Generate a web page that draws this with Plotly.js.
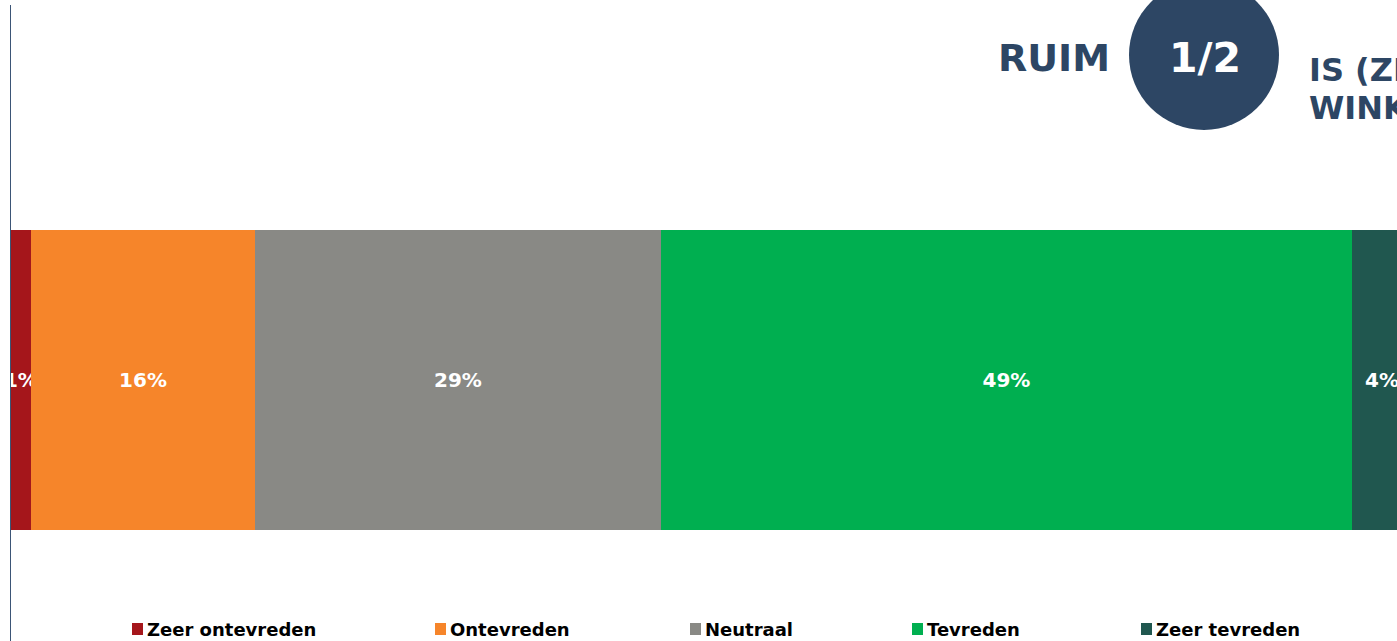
<!DOCTYPE html>
<html>
<head>
<meta charset="utf-8">
<script src="https://cdn.plot.ly/plotly-3.0.1.min.js"></script>
<style>
  html, body { margin: 0; padding: 0; overflow: hidden; background: #ffffff; }
  #chart { width: 1423px; height: 641px; }
</style>
</head>
<body>
<div id="chart"></div>
<script>
// ---- data ----
const categories = ['Zeer ontevreden', 'Ontevreden', 'Neutraal', 'Tevreden', 'Zeer tevreden'];
const values = [1.4, 15.9, 28.7, 49.0, 4.2];
const colors = ['#A5161B', '#F6852A', '#898985', '#00AF50', '#20574F'];
const rowLabel = ['Totaal'];
const titleLeft = 'RUIM';
const titleBadge = '1/2';
const titleRightLine1 = 'IS (ZEER) TEVREDEN OVER HET';
const titleRightLine2 = 'WINKELAANBOD';

// ---- layout helpers (pixel -> paper) ----
const W = 1423, H = 641;
const M = { l: 11, r: 0, t: 5, b: 0 };
const PW = W - M.l - M.r, PH = H - M.t - M.b;
const px = x => (x - M.l) / PW;
const py = y => (H - M.b - y) / PH;

const NAVY = '#2D4664';
const FONT = 'DejaVu Sans, Verdana, sans-serif';

const traces = categories.map((c, i) => ({
  type: 'bar',
  orientation: 'h',
  name: c,
  x: [values[i]],
  y: rowLabel,
  marker: { color: colors[i], line: { width: 0 } },
  texttemplate: '%{x:.0f}%',
  textposition: 'inside',
  insidetextanchor: 'middle',
  textangle: 0,
  constraintext: 'none',
  textfont: { color: '#ffffff', size: 20, family: FONT, weight: 'bold' },
  hoverinfo: 'none',
  showlegend: false
}));

// legend built from categories
const legendX = [132, 435, 690, 912, 1141];
const legendY = 629;
const shapes = [];
const annotations = [];
categories.forEach((c, i) => {
  shapes.push({
    type: 'rect', xref: 'paper', yref: 'paper',
    x0: px(legendX[i]), x1: px(legendX[i] + 11),
    y0: py(legendY + 6), y1: py(legendY - 6),
    fillcolor: colors[i], line: { width: 0 }
  });
  annotations.push({
    xref: 'paper', yref: 'paper', x: px(legendX[i] + 13), y: py(legendY),
    xanchor: 'left', yanchor: 'middle', showarrow: false,
    text: c, font: { family: FONT, size: 18, color: '#000000', weight: 'bold' }
  });
});

// title pieces
shapes.push({
  type: 'circle', xref: 'paper', yref: 'paper',
  x0: px(1129), x1: px(1279), y0: py(130), y1: py(-20),
  fillcolor: NAVY, line: { width: 0 }
});
annotations.push({
  xref: 'paper', yref: 'paper', x: px(996), y: py(58),
  xanchor: 'left', yanchor: 'middle', showarrow: false,
  text: titleLeft, font: { family: FONT, size: 38, color: NAVY, weight: 'bold' }
});
annotations.push({
  xref: 'paper', yref: 'paper', x: px(1205), y: py(58),
  xanchor: 'center', yanchor: 'middle', showarrow: false,
  text: '<b>' + titleBadge + '</b>', font: { family: FONT, size: 41, color: '#ffffff', weight: 'bold' }
});
annotations.push({
  xref: 'paper', yref: 'paper', x: px(1307), y: py(70),
  xanchor: 'left', yanchor: 'middle', showarrow: false,
  text: titleRightLine1, font: { family: FONT, size: 32, color: NAVY, weight: 'bold' }
});
annotations.push({
  xref: 'paper', yref: 'paper', x: px(1307), y: py(108),
  xanchor: 'left', yanchor: 'middle', showarrow: false,
  text: titleRightLine2, font: { family: FONT, size: 32, color: NAVY, weight: 'bold' }
});

const layout = {
  width: W, height: H,
  margin: M,
  barmode: 'stack',
  bargap: 0,
  paper_bgcolor: '#ffffff',
  plot_bgcolor: '#ffffff',
  showlegend: false,
  xaxis: { range: [0, 100], showgrid: false, zeroline: false, showticklabels: false, showline: false, ticks: '', fixedrange: true },
  yaxis: { range: [-0.87, 1.25], showgrid: false, zeroline: false, showticklabels: false, ticks: '',
           showline: true, linecolor: '#3B5576', linewidth: 1.5, fixedrange: true },
  shapes: shapes,
  annotations: annotations
};

Plotly.newPlot('chart', traces, layout, { displayModeBar: false, staticPlot: true });
</script>
</body>
</html>
